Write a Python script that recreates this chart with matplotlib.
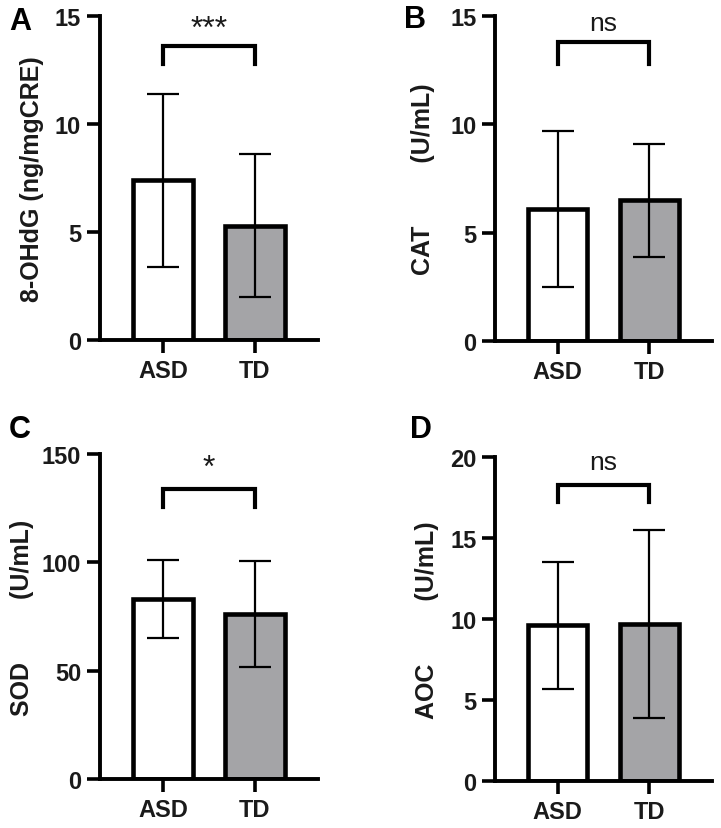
import matplotlib

matplotlib.use("Agg")
import matplotlib.pyplot as plt

groups = ["ASD", "TD"]

ohdg_mean = [7.4, 5.3]
ohdg_sd = [4.0, 3.3]
cat_mean = [6.1, 6.5]
cat_sd = [3.6, 2.6]
sod_mean = [83.0, 76.0]
sod_sd = [18.0, 24.5]
aoc_mean = [9.6, 9.7]
aoc_sd = [3.9, 5.8]

# bracket height, leg bottom, label height, label
ohdg_sig = (13.6, 12.8, 14.4, "***")
cat_sig = (13.8, 12.8, 14.7, "ns")
sod_sig = (134.0, 125.5, 143.5, "*")
aoc_sig = (18.3, 17.2, 19.7, "ns")

ohdg_ticks = [0, 5, 10, 15]
cat_ticks = [0, 5, 10, 15]
sod_ticks = [0, 50, 100, 150]
aoc_ticks = [0, 5, 10, 15, 20]

plt.rcParams["font.family"] = ["Liberation Sans", "DejaVu Sans"]

W, H = 721, 829
fig = plt.figure(figsize=(W / 100, H / 100), dpi=100)


def px_axes(left, top, right, bottom):
    return fig.add_axes([left / W, (H - bottom) / H, (right - left) / W, (bottom - top) / H])


ax_a = px_axes(100, 17, 318, 341)
ax_b = px_axes(495, 17, 712, 342)
ax_c = px_axes(100, 455, 318, 780)
ax_d = px_axes(495, 458, 712, 782)

gap = " " * 9
panels = [
    (ax_a, ohdg_mean, ohdg_sd, ohdg_ticks, ohdg_sig, "8-OHdG (ng/mgCRE)", "A", 32, (20, 22)),
    (ax_b, cat_mean, cat_sd, cat_ticks, cat_sig, "CAT" + gap + "(U/mL)", "B", 423, (415, 20)),
    (ax_c, sod_mean, sod_sd, sod_ticks, sod_sig, "SOD" + gap + "(U/mL)", "C", 22, (20, 430)),
    (ax_d, aoc_mean, aoc_sd, aoc_ticks, aoc_sig, "AOC" + gap + "(U/mL)", "D", 427, (421, 430)),
]

for ax, means, sds, ticks, sig, ylabel, letter, label_x, letter_xy in panels:
    x = [0, 1]
    ax.bar(x, means, width=0.65, color=["white", "#a4a4a7"], edgecolor="black",
           linewidth=3.3, zorder=2)
    ax.errorbar(x, means, yerr=sds, fmt="none", ecolor="black", elinewidth=1.6,
                capsize=11.5, capthick=1.6, zorder=3)
    ax.set_xlim(-0.685, 1.685)
    ax.set_ylim(ticks[0], ticks[-1])
    ax.set_yticks(ticks)
    ax.set_xticks(x)
    ax.set_xticklabels(groups)
    for side in ("top", "right"):
        ax.spines[side].set_visible(False)
    for side in ("left", "bottom"):
        ax.spines[side].set_linewidth(2.8)
    ax.tick_params(axis="both", width=2.6, length=9.5, labelsize=17, pad=4)
    for lab in ax.get_xticklabels() + ax.get_yticklabels():
        lab.set_fontweight("bold")
        lab.set_color("#1a1a1a")

    top, leg, text_y, text = sig
    ax.plot([0, 0, 1, 1], [leg, top, top, leg], color="black", linewidth=3.0,
            solid_joinstyle="miter", clip_on=False)
    star_size = 23 if "*" in text else 19
    ax.text(0.5, text_y, text, ha="center", va="center", fontsize=star_size,
            color="#1a1a1a", clip_on=False)

    # y label placed by figure pixel position
    ax.set_ylabel(ylabel, fontsize=18, fontweight="bold", color="#1a1a1a")
    bbox = ax.get_position()
    ax.yaxis.set_label_coords((label_x / W - bbox.x0) / bbox.width, 0.5)
    ax.yaxis.label.set_va("center")

    fig.text(letter_xy[0] / W, 1 - letter_xy[1] / H, letter, fontsize=22,
             fontweight="bold", ha="center", va="center")

fig.savefig("out.png", dpi=100)
